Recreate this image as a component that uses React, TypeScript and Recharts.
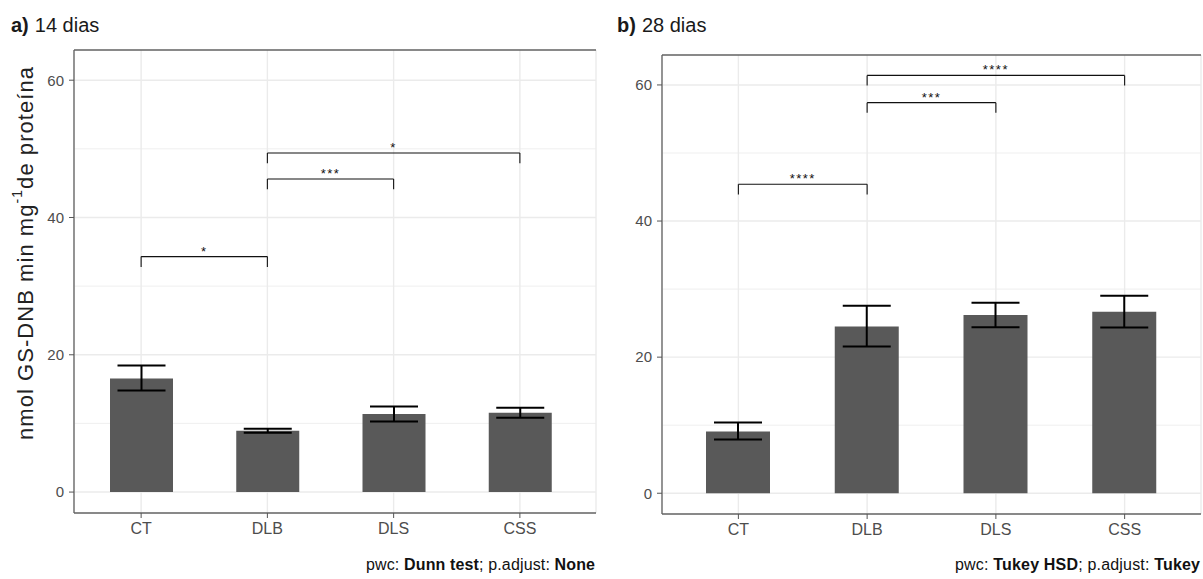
import React from "react";
import { ComposedChart, Bar, ErrorBar, XAxis, YAxis, CartesianGrid, ReferenceLine } from "recharts";

const groups = ["CT", "DLB", "DLS", "CSS"];

// a) 14 dias
const means14 = [16.55, 8.93, 11.36, 11.55];
const low14 = [14.8, 8.64, 10.28, 10.82];
const high14 = [18.44, 9.22, 12.47, 12.28];
const bracketFrom14 = ["CT", "DLB", "DLB"];
const bracketTo14 = ["DLB", "DLS", "CSS"];
const bracketY14 = [34.3, 45.6, 49.4];
const bracketLabel14 = ["*", "***", "*"];

// b) 28 dias
const means28 = [9.07, 24.5, 26.18, 26.67];
const low28 = [7.89, 21.57, 24.41, 24.36];
const high28 = [10.39, 27.55, 27.99, 29.02];
const bracketFrom28 = ["CT", "DLB", "DLB"];
const bracketTo28 = ["DLB", "DLS", "CSS"];
const bracketY28 = [45.4, 57.4, 61.4];
const bracketLabel28 = ["****", "***", "****"];

const yTicks = [0, 20, 40, 60];
const yMinor = [10, 30, 50];
const yDomain = [-3.05, 64.4];

const FONT = "'Liberation Sans', Arial, sans-serif";
const FRAME = "#626262";
const GRID = "#ebebeb";
const TIP = 1.5;

const buildData = (means: number[], low: number[], high: number[]) =>
  groups.map((g, i) => ({
    name: g,
    value: means[i],
    err: [means[i] - low[i], high[i] - means[i]],
  }));

const YLabel = ({ viewBox }: any) => {
  const cx = viewBox.x - 9;
  const cy = viewBox.y + viewBox.height / 2 - 28;
  return (
    <text
      x={cx}
      y={cy}
      transform={`rotate(-90 ${cx} ${cy})`}
      textAnchor="middle"
      dominantBaseline="central"
      fontSize={22}
      fill="#222"
      fontFamily={FONT}
      textLength={373}
      lengthAdjust="spacing"
    >
      nmol GS-DNB min mg<tspan dy={-8} fontSize={14}>-1</tspan>
      <tspan dy={8}>de proteína</tspan>
    </text>
  );
};

const Panel = ({ data, from, to, ys, labels, width, margin, padding, barSize, yLabel }: any) => (
  <ComposedChart width={width} height={579} data={data} margin={margin} style={{ fontFamily: FONT }}>
    <CartesianGrid horizontalValues={yMinor} vertical={false} stroke={GRID} strokeWidth={0.8} />
    <CartesianGrid horizontalValues={yTicks} stroke={GRID} strokeWidth={1.4} />
    <XAxis
      dataKey="name"
      type="category"
      interval={0}
      padding={padding}
      height={30}
      tickSize={5}
      tickMargin={5}
      tick={{ fill: "#4d4d4d", fontSize: 16 }}
      tickLine={{ stroke: "#555" }}
      axisLine={{ stroke: FRAME, strokeWidth: 1.3 }}
    />
    <YAxis
      type="number"
      domain={yDomain}
      ticks={yTicks}
      allowDataOverflow
      width={40}
      tickSize={5}
      tickMargin={5}
      tick={{ fill: "#4d4d4d", fontSize: 15 }}
      tickLine={{ stroke: "#555" }}
      axisLine={{ stroke: FRAME, strokeWidth: 1.3 }}
      label={yLabel ? <YLabel /> : undefined}
    />
    <YAxis yAxisId="right" orientation="right" type="number" domain={yDomain} allowDataOverflow width={0} tick={false} tickLine={false} axisLine={{ stroke: FRAME, strokeWidth: 1.3 }} />
    <ReferenceLine y={yDomain[1]} ifOverflow="visible" stroke={FRAME} strokeWidth={1.3} />
    <Bar dataKey="value" fill="#595959" barSize={barSize} isAnimationActive={false}>
      <ErrorBar dataKey="err" direction="y" width={24} stroke="#000" strokeWidth={2} isAnimationActive={false} />
    </Bar>
    {from.map((f: string, i: number) => (
      <ReferenceLine
        key={`h${i}`}
        position="middle"
        ifOverflow="visible"
        segment={[{ x: f, y: ys[i] }, { x: to[i], y: ys[i] }]}
        stroke="#111"
        strokeWidth={1.1}
        label={{ value: labels[i], position: "top", offset: 1, fill: "#111", fontSize: 13, letterSpacing: 1.5 }}
      />
    ))}
    {from.map((f: string, i: number) => (
      <ReferenceLine
        key={`l${i}`}
        position="middle"
        ifOverflow="visible"
        segment={[{ x: f, y: ys[i] }, { x: f, y: ys[i] - TIP }]}
        stroke="#111"
        strokeWidth={1.1}
      />
    ))}
    {from.map((f: string, i: number) => (
      <ReferenceLine
        key={`r${i}`}
        position="middle"
        ifOverflow="visible"
        segment={[{ x: to[i], y: ys[i] }, { x: to[i], y: ys[i] - TIP }]}
        stroke="#111"
        strokeWidth={1.1}
      />
    ))}
  </ComposedChart>
);

export default function App() {
  const data14 = buildData(means14, low14, high14);
  const data28 = buildData(means28, low28, high28);
  return (
    <div style={{ position: "absolute", left: 0, top: 0, width: 1203, height: 579, background: "#fff", fontFamily: FONT }}>
      <div style={{ position: "absolute", left: 0, top: 0 }}>
        <Panel
          data={data14}
          from={bracketFrom14}
          to={bracketTo14}
          ys={bracketY14}
          labels={bracketLabel14}
          width={600}
          margin={{ top: 50, right: 4, bottom: 36, left: 34 }}
          padding={{ left: 4, right: 13 }}
          barSize={63}
          yLabel
        />
      </div>
      <div style={{ position: "absolute", left: 600, top: 0 }}>
        <Panel
          data={data28}
          from={bracketFrom28}
          to={bracketTo28}
          ys={bracketY28}
          labels={bracketLabel28}
          width={603}
          margin={{ top: 55, right: 2, bottom: 35, left: 22 }}
          padding={{ left: 12, right: 12 }}
          barSize={64}
        />
      </div>
      <svg width={1203} height={579} style={{ position: "absolute", left: 0, top: 0, pointerEvents: "none" }} fontFamily={FONT}>
        <text x={11} y={32} fontSize={20} fill="#1a1a1a">
          <tspan fontWeight="bold">a)</tspan>
          <tspan dx={6}>14 dias</tspan>
        </text>
        <text x={617} y={32} fontSize={20} fill="#1a1a1a">
          <tspan fontWeight="bold">b)</tspan>
          <tspan dx={6}>28 dias</tspan>
        </text>
        <text x={595} y={570} fontSize={16} fill="#111" textAnchor="end" textLength={229} lengthAdjust="spacing">
          pwc: <tspan fontWeight="bold">Dunn test</tspan>; p.adjust: <tspan fontWeight="bold">None</tspan>
        </text>
        <text x={1200} y={570} fontSize={16} fill="#111" textAnchor="end" textLength={245} lengthAdjust="spacing">
          pwc: <tspan fontWeight="bold">Tukey HSD</tspan>; p.adjust: <tspan fontWeight="bold">Tukey</tspan>
        </text>
      </svg>
    </div>
  );
}
